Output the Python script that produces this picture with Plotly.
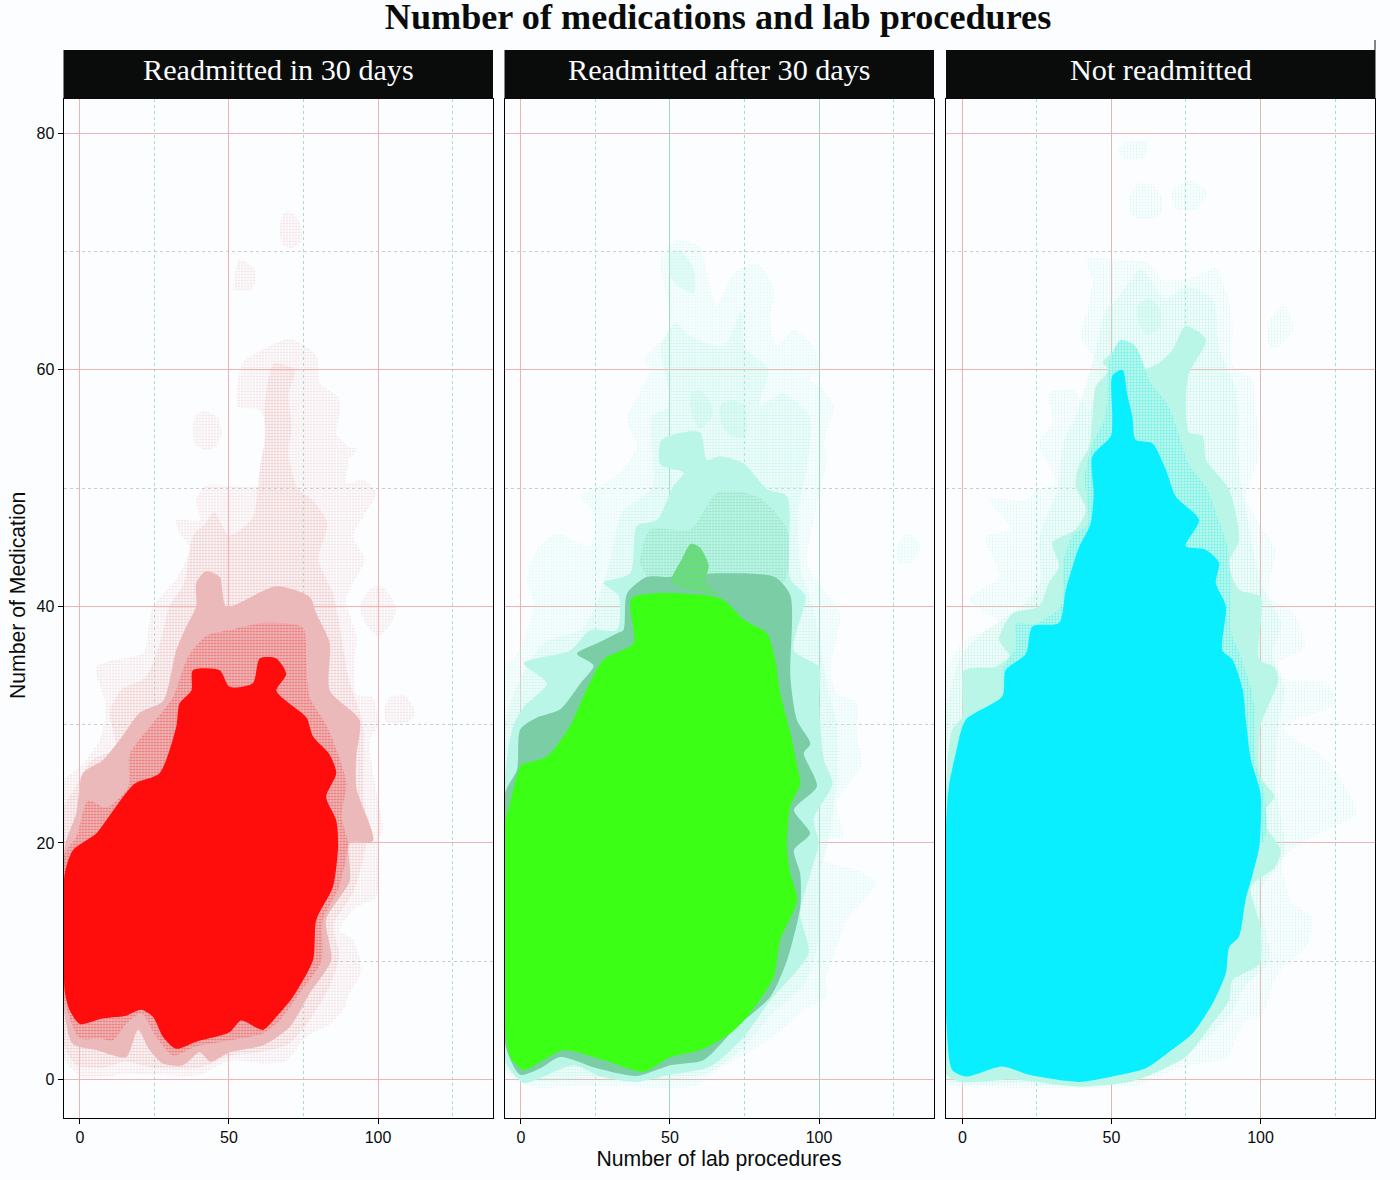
import plotly.graph_objects as go

# Panel names and axis labels
PANELS = ["Readmitted in 30 days", "Readmitted after 30 days", "Not readmitted"]
X_TICKS = [0, 50, 100]
X_MINOR = [25, 75, 125]
Y_TICKS = [0, 20, 40, 60, 80]
Y_MINOR = [10, 30, 50, 70]

# Outlines: (lab procedures, medications)
# Panel 1
R_SPARSE = [(-5.4,1.9),(1,0.2),(16.7,0.5),(25.6,0.4),(40.2,0.4),(50.2,1.6),(62.5,1.35),(69.2,1.6),(75.9,3.6),(83.8,4.7),(88.3,5.9),(90.5,7.3),(94.4,9.2),(91.6,11.8),(87.1,12.6),(92.7,14.6),(99.4,15.4),(100,20),(101.7,21.4),(100,23.6),(97.2,28.7),(100,30),(98.2,32.3),(92.7,32.6),(91.9,34.3),(92.7,37.5),(89.3,40.6),(95.5,44),(91.6,45.9),(95,47.6),(99.4,49.6),(95,50.7),(89.3,50.4),(89.9,52.4),(86,54.1),(87.2,57.5),(80.4,58.9),(79.3,61.2),(70.4,62.6),(63.6,62),(54.7,60.6),(53,56.9),(60.3,56.6),(62.5,55),(60.3,51.8),(60.3,50.2),(42.4,50.2),(39,49),(40.2,47.3),(32.3,47.3),(33.4,46.2),(36.8,45),(32.3,42.3),(24.5,40),(22.2,36.6),(21.1,36),(5.5,34.9),(8.8,31.5),(6.6,28.7),(-0.1,26.4),(-5.1,25.3)]
R_MID = [(-5.4,3),(-1,1.2),(8,1),(15,1.5),(25,1),(40,1),(50,2),(60,2.3),(70,3),(77,5),(84,8),(87,10.5),(85,13),(92,16),(96,20),(95,25),(95,30),(90,34),(88,37),(85,41),(80,44),(83,47),(78,49),(73,50),(70,53),(71,55),(70,58),(72,60),(65,60.5),(62,57),(62,54),(60,51),(58,47.5),(50,46),(45,48),(42,47),(38,46),(35,42),(30,40),(27,37),(22,34),(14,33),(10,31),(12,28),(4,27),(-2,24.5),(-5.4,23)]
R_SOLID = [(-5.4,6.1),(-2.4,3),(5.5,2.5),(15.5,1.9),(19.5,4.2),(23.4,2.5),(27.9,1.35),(34.6,1.2),(40.2,2.3),(43.8,1.5),(50.2,2.3),(61.4,2.9),(70.4,4.45),(77.1,7.3),(84.3,10.1),(82.6,13.5),(90.5,16.8),(90.5,20),(98.3,20.2),(92.7,24.7),(92.7,27.3),(93.8,30.4),(83.8,32.9),(83.8,36.9),(79.3,39.4),(77.1,40.8),(65.9,41.7),(49.1,40),(46.9,42.5),(42.4,43),(39,42),(39,40),(35.7,38.3),(32.3,36.3),(27.9,32),(20,31),(13.3,28.7),(7.7,27),(1,25.9),(-1.2,22.5),(-5.1,19.7)]
R_FRINGE = [(-5.1,6.7),(0,3.5),(6.6,3.5),(11,3.3),(15.5,4.7),(20.6,5.6),(25.6,3.6),(31.2,2.05),(39,2.8),(50.2,3.3),(61.4,3.9),(67,5),(73.7,7.3),(81,10),(81.5,13.5),(87,16.3),(89.9,20),(87.7,22.2),(89.4,25),(86.6,27.5),(82.6,30),(77.1,32.3),(75.9,35.4),(74.8,38.2),(61.4,38.6),(50.2,38),(42.4,37.5),(36.2,35.7),(31.2,32.3),(23.4,29.8),(16.7,27.5),(16.1,24.7),(8.8,23),(2.7,23.6),(-1.2,20.5),(-5.1,19.1)]
R_CORE = [(-5.1,7.5),(-3.5,5.9),(0,4.7),(7.2,5.15),(15.5,5.4),(20.6,5.9),(24.5,5.3),(27.9,3.6),(32.3,2.6),(39,3.2),(50.2,4),(54.1,5),(61.4,4.2),(65.9,5.3),(71.5,7),(78.2,10.1),(79.3,13.5),(84.9,16.3),(86.6,19.7),(86,21.9),(82.6,23.9),(86,25.9),(83.7,27.5),(78.2,29),(76,30.6),(69.2,32),(65.9,32.9),(69.2,34.3),(65.9,35.6),(60.3,35.6),(58,33.5),(50.2,33.2),(46.9,34.6),(37.9,34.6),(37.4,32.9),(33.4,31.8),(32.3,29.8),(26.7,25.9),(18.3,25),(8.8,21.9),(5.5,20.8),(-2.3,19.4),(-5.1,17.4),(-5.4,11.8)]
R_BLOBS = [
    [(38,55),(39,56.2),(42,56.5),(46,56),(47.5,54.8),(46,53.6),(42,53.2),(38.5,53.8)],
    [(67,72),(68.5,73.3),(71,73.3),(74,72.3),(74.3,70.8),(71,70.3),(68,70.6)],
    [(51.5,66.8),(51.7,67.5),(53.5,69.3),(58.5,68.5),(59,67.5),(57,66.7),(52,66.8)],
    [(94,40),(98,41.6),(102,41.6),(106,39.8),(104,38.4),(100,37.5),(96,38.5)],
    [(102,31),(104,32.3),(109,32.5),(112.5,31),(110,30.2),(103,30.2)],
    [(85.5,54.6),(90,53.5),(93,53.3),(90,52.5)],
]

# Panel 2
G_SPARSE = [(-5.5,0.8),(3.1,-0.6),(22,-0.5),(44.5,-0.7),(59,-0.5),(65.8,0.8),(75.8,2.2),(86,3.9),(95,5.9),(102.7,7),(102.1,8.4),(106,11.2),(109.4,13.5),(119,16.6),(112.7,17.7),(100.4,18.6),(100.4,20.3),(108,20.5),(106,23.4),(114.4,26.7),(112.7,29),(112.7,31.8),(106,32.7),(103.8,34.6),(107,39.4),(100,42),(96,43.7),(102.7,52.7),(101.6,53.8),(104.9,56.9),(101.6,58.3),(97,59.2),(99.9,60),(98.2,62),(91.5,63.4),(85.9,62),(83.7,64.3),(84.8,66.8),(79.2,69),(71.4,68.2),(65.8,65.4),(62.4,68.2),(60.1,70.4),(52.3,71),(46.8,69.3),(49,66),(50.1,63.4),(41.2,60.9),(43.4,60),(35.6,55.8),(38.9,53.5),(33.3,51.3),(27.7,50.4),(19.9,49.3),(24.4,47.9),(23.3,45.1),(17.6,45.6),(12,46.2),(5.4,44.8),(2,42.5),(4.3,40),(-2.5,35.5),(-5.3,35.2)]
G_MID = [(-5.4,1),(5,-0.1),(26,0.2),(50,0),(62,0.5),(74,2.5),(84,5.5),(95,8),(100,12),(100,17),(103,20),(106,25),(106,30),(103,33),(98,40),(94,43),(93,48),(96,52),(97,56),(88,58),(80,57),(83,60),(75,62),(74,65),(68,62),(56,63),(52,64),(47,62),(50,57),(44,56),(44,50),(34,48),(30,44),(25,40),(20,38),(8,37),(0,34),(-5.4,30)]
G_SOLID = [(-5.3,1.6),(0.9,-0.3),(5.4,0),(17.7,1.2),(26.6,0.25),(38.9,-0.2),(50.1,0.4),(63.5,1.1),(74.7,3.6),(83.7,6.7),(96.5,10.7),(93.7,14),(97.1,17.4),(99.9,20),(98.2,22),(104.5,25),(101.7,27),(100,31.8),(99.9,34.9),(91.5,36.3),(95.4,40.9),(90.4,42.3),(89.3,49.3),(82.6,49.9),(74.7,52.1),(66.9,52.7),(62.4,52.4),(60.2,54.7),(54,54.7),(47,54),(46.8,52),(54.6,51.3),(51.2,50.2),(45.6,47.3),(38.9,46.8),(36.7,42.8),(27.7,42),(32.8,40.9),(32.2,38),(23.3,38),(16.6,36.3),(0.9,35.2),(8.7,33.5),(0.9,31.5),(-2.7,29.8),(-5.3,25.6)]
G_SPECKLE = [(88,42),(89.3,46.5),(79.2,49.3),(65.8,49.6),(56.8,46.5),(43.4,46.5),(40,43.7),(42.3,42.5),(45,40)]
G_FRINGE = [(-5.3,3),(-0.2,0.4),(6.5,0.95),(13.2,1.9),(25.5,0.95),(38.9,0.3),(50.1,1.2),(61.3,1.65),(72.5,4.5),(83.7,7),(89.3,10.1),(93.7,14.6),(93.7,17.4),(91.6,19.4),(97,20.8),(91.6,22.8),(99.3,24.8),(94.9,27.6),(97.1,28.4),(92.6,30.4),(90.4,34),(90.4,40.9),(85,42.5),(66,42.8),(50,42.5),(42.3,42.5),(35.6,41.1),(34.4,38),(32,37.7),(25.7,36.9),(18.8,36),(24.4,35),(20,33.5),(13.2,31.3),(5.4,30.6),(-0.2,29.6),(-1.3,26.2),(-5.3,24.2)]
G_TIP = [(50.5,42),(54,44),(57,45.3),(60,45),(63,43.5),(62,42),(67,41)]
G_CORE = [(37.2,40.7),(66.9,40.7),(74.7,38.9),(82.6,37.7),(85.3,35.5),(87,32.7),(90.4,29.3),(92.7,26.5),(93.7,25),(90.4,23.1),(89.3,19.7),(90.4,17.4),(92.7,15.2),(87,11.8),(84.8,8.7),(76.9,5.6),(70.2,3.9),(60.2,2.5),(50.1,1.9),(41.2,0.66),(27.7,1.65),(14.3,2.5),(7.6,1.65),(0.9,0.8),(-3.6,1.9),(-5.3,4.5),(-5.5,21.4),(-3.6,23.4),(-0.2,26.5),(0.9,26.7),(8.7,27.3),(16.5,29.9),(22.1,33),(27.7,35.5),(37.8,36.9)]
G_BLOBS = [
    [(126,45),(130,46.2),(134,45),(131,43.7),(127,43.6)],
]
G_LUMPS = [
    [(57,58),(60,58.3),(64,57),(64,56),(60,55),(57,56.5)],
    [(67,57),(70,57.5),(75,57),(75,54.3),(70,54.5),(67,55.5)],
    [(50,70),(54,70),(58,68.5),(58,66.5),(53,67),(50,68)],
]

# Panel 3
C_SPARSE = [(-5.5,-0.3),(5.6,-0.6),(28,-0.7),(58,-0.5),(68.2,0.5),(80.5,1.4),(88.3,1.8),(95,5),(100,5.3),(106,9),(116,11.5),(116.9,13.8),(110.8,14.9),(107.4,18.6),(117.4,20.5),(132,22.5),(126.4,25.6),(119.6,27.6),(111.8,28.7),(107.3,29.9),(125.3,31.8),(122,33.5),(108.5,33.8),(106,35.2),(114.7,36.6),(111.3,39.4),(102.9,40.9),(105,44.8),(100.7,46.5),(95.1,49.3),(99.6,52.7),(98.4,56.6),(97.3,59.2),(90.6,60.3),(90.6,63.7),(89.5,65.7),(85,68.6),(78.3,67.9),(67.1,67.6),(62.6,69),(52.6,69.3),(41.4,69.3),(43.6,67.6),(42.5,65.7),(39.7,62.8),(45.9,60.3),(42.5,56.6),(36.9,58.3),(29.1,58),(30.2,55.5),(25.7,53.8),(31.3,50.4),(25.7,49.9),(21.3,49),(8.9,49),(16.8,46.5),(7.8,45.9),(12.3,42.5),(2.2,40.6),(12.3,38.6),(1.1,37.2),(-5.5,34.6)]
C_MID = [(-5.5,0.2),(20,-0.3),(40,-0.6),(60,0),(72,1.5),(82,3.5),(90,5.5),(95,8),(103,10),(100,16),(108,19),(105,25),(106,30),(108,33),(104,36),(107,38.5),(100,42),(96,47),(93,51),(92,58),(86,62),(84,66),(75,67),(68,66),(60,68.5),(52,66),(48,65),(44,61),(38,56),(34,54),(32,50),(26,46),(26,42),(20,40),(8,38),(0,36),(-5.5,31)]
C_SOLID = [(-5.5,0.5),(0,-0.2),(16.8,0),(39.1,-0.6),(55.9,-0.2),(63.7,0.5),(74.9,1.9),(83.9,4.75),(89.5,6.7),(90.6,8.4),(99.6,9.8),(100,12.9),(96.8,16.3),(105,18),(106.8,19.4),(100,22.2),(104.6,23.9),(100,25.6),(100,29.9),(106,33.8),(104.6,34.9),(99.6,35.5),(100,40.8),(92.8,41.4),(89.4,43.7),(92.8,45.6),(89.4,49.9),(81.7,52.4),(80.6,54.4),(76,54.7),(75,57.8),(76,59.7),(81.7,62.6),(74.9,63.7),(70.5,61.7),(66,60.6),(59.3,60),(57,61.2),(50.3,61.4),(47,60.6),(49.2,60),(44.7,58.6),(43.6,56),(42.5,53.5),(39.1,51.9),(38,50.2),(41.4,48.2),(38,46.5),(30.2,45.4),(32.4,43.4),(29,42),(25.7,40),(16.8,39.4),(12.3,37.2),(15.7,35.8),(11.2,34.9),(0.6,34.6),(0,30.7),(-3.4,29.6),(-5.3,25.6)]
C_FRINGE = [(100.5,20),(101,24.5),(98,27),(98,31),(97,33),(93,36),(90,38),(90,41),(89,45),(85,48),(82,50),(76,52),(72,55),(69,57),(63,59),(58,62),(53,62.5),(49,60.5),(48,56),(44,54),(41,51),(42,47),(37,46),(34,44),(33,40),(28,39),(24,38.5),(18,38.6),(17.9,36.6),(13.4,34.6),(12.9,31.8),(1.1,30.5),(-2.2,27.6),(-5,24.5),(-5.5,20)]
C_CORE = [(-5.3,4.5),(-3.4,0.8),(1.1,0.25),(13.4,1.1),(22.4,0.4),(39.1,-0.2),(50.3,0.25),(61.5,0.95),(69.4,2.35),(77.2,3.9),(83.9,6.4),(88.4,9),(89.5,11.2),(92.8,12.1),(95,15.2),(97.2,17.2),(99.6,19.7),(100,24.2),(96.8,27),(95.1,30.4),(94,33),(90.6,35.5),(87.2,36.3),(88.4,40),(85,42),(86.1,43.7),(81.6,44.8),(74.9,45.1),(79.4,47.3),(71.6,49.3),(68.2,51.6),(63.7,53.8),(58.1,54.1),(57,56.1),(55.4,57.8),(53.7,60),(50.3,59.5),(50.3,56),(49.8,54.4),(43.6,52.7),(44,49.5),(43,47),(39.1,45),(34.7,41.4),(32.4,38.6),(23.5,38.3),(21.3,36),(14.5,34.6),(13.4,32.4),(1.1,30.4),(-2.2,27.6),(-4.5,24.8),(-5.5,21.4)]
C_BLOBS = [
    [(56,74.5),(59,75.8),(64,75.6),(67,74.5),(66,73),(60,72.7),(57,73)],
    [(52.2,78.5),(55,79.3),(62,79.2),(61,78),(55,77.8)],
    [(70,75),(76,76),(82,75),(78,73.5),(72,73.6)],
    [(103,64),(108,65.5),(111,63.5),(106,62),(103,62)],
]
C_LUMPS = [
    [(59,65.5),(63,66),(66.5,65),(66,63.5),(62,63),(59,64)],
]

PAGE = "#fbfdff"
STRIP = "#0a0c0c"
STYLES = [
    dict(core="#ff0c0c", speck="#ff0c0c", solid="#ebb9b9", light="#ebb9b9", fringe_bg="#ebb9b9"),
    dict(core="#3bff14", speck="#6fc79c", solid="#b9f6e7", light="#b9f6e7", fringe_bg="#7bcda6"),
    dict(core="#0aefff", speck="#0aefff", solid="#b9f6e7", light="#b9f6e7", fringe_bg="#b9f6e7"),
]
W, H = 1400, 1180
PANEL_PX = [(63.5, 492.5), (504.5, 933.5), (946, 1375)]
TOP_PX, BOTTOM_PX, STRIP_TOP_PX = 99, 1118, 50

fig = go.Figure()


def poly(panel, pts, color=None, pattern=None):
    axis = "" if panel == 0 else str(panel + 1)
    pts = list(pts) + [pts[0]]
    kw = dict(fillcolor=color) if color else dict(fillpattern=pattern, fillcolor="rgba(0,0,0,0)")
    fig.add_trace(go.Scatter(x=[p[0] for p in pts], y=[p[1] for p in pts], xaxis="x" + axis, yaxis="y" + axis,
                             mode="lines", fill="toself", line=dict(width=0, shape="spline", smoothing=0.7),
                             hoverinfo="skip", showlegend=False, **kw))


def dots(color, size, solidity, bg=None):
    d = dict(shape=".", fgcolor=color, size=size, solidity=solidity)
    if bg:
        d["bgcolor"] = bg
    return d


DATA = [
    (R_SPARSE, R_MID, R_SOLID, R_FRINGE, R_CORE, R_BLOBS, []),
    (G_SPARSE, G_MID, G_SOLID, G_FRINGE, G_CORE, G_BLOBS, G_LUMPS),
    (C_SPARSE, C_MID, C_SOLID, C_FRINGE, C_CORE, C_BLOBS, C_LUMPS),
]
for i, (sparse, mid, solid, fringe, core, blobs, lumps) in enumerate(DATA):
    st = STYLES[i]
    poly(i, sparse, pattern=dots(st["light"], 3, 0.28))
    for b in blobs:
        poly(i, b, pattern=dots(st["light"], 3, 0.28))
    poly(i, mid, pattern=dots(st["light"], 3, 0.5))
    for b in lumps:
        poly(i, b, pattern=dots(st["light"], 2, 0.7))
    poly(i, solid, color=st["solid"])
    if i == 1:
        poly(i, G_SPECKLE, pattern=dots("#6fc79c", 3, 0.3))
        poly(i, fringe, color="#7bcda6")
        poly(i, G_TIP, pattern=dots("#3bff14", 3, 0.5, "#7bcda6"))
    else:
        poly(i, fringe, pattern=dots(st["speck"], 3, 0.3, st["fringe_bg"]))
    poly(i, core, color=st["core"])

layout = dict(width=W, height=H, margin=dict(l=0, r=0, t=0, b=0), paper_bgcolor=PAGE, plot_bgcolor=PAGE,
              font=dict(family="Liberation Sans", color="#0a0c0c"),
              title=dict(text="<b>Number of medications and lab procedures</b>", x=718 / W, xanchor="center",
                         y=1 - 16 / H, yanchor="middle", font=dict(family="Liberation Serif", size=36.2, color="#0a0c0c")))

major_x = ["#eeb4b4", "#9fd8be", "#e2b6b2"]
shapes, annotations = [], []
for i, (l, r) in enumerate(PANEL_PX):
    sx = "" if i == 0 else str(i + 1)
    layout["xaxis" + sx] = dict(
        domain=[l / W, r / W], range=[-5.5, 138.4], anchor="y" + sx,
        tickmode="array", tickvals=X_TICKS, ticktext=[str(v) for v in X_TICKS],
        ticks="outside", ticklen=5, tickcolor="#000", tickfont=dict(size=16, color="#0a0c0c"),
        showline=True, linecolor="#000", linewidth=1, mirror=True,
        zeroline=True, zerolinecolor="#eeb4b4", zerolinewidth=1,
        showgrid=True, gridcolor=major_x[i], gridwidth=1,
        minor=dict(tickvals=X_MINOR, showgrid=True, gridcolor="#a9dccb", griddash="dot", gridwidth=1, ticks=""),
    )
    layout["yaxis" + sx] = dict(
        domain=[1 - BOTTOM_PX / H, 1 - TOP_PX / H], range=[-3.25, 82.9], anchor="x" + sx,
        tickmode="array", tickvals=Y_TICKS, ticktext=[str(v) for v in Y_TICKS],
        showticklabels=i == 0, ticks="outside" if i == 0 else "", ticklen=5, tickcolor="#000",
        tickfont=dict(size=16, color="#0a0c0c"),
        showline=True, linecolor="#000", linewidth=1, mirror=True, zeroline=False,
        showgrid=True, gridcolor="#eeb4b4", gridwidth=1,
        minor=dict(tickvals=Y_MINOR, showgrid=True, gridcolor="#c9cfc6", griddash="dot", gridwidth=1, ticks=""),
    )
    shapes.append(dict(type="rect", xref="paper", yref="paper", x0=l / W, x1=(r + 0.5) / W,
                       y0=1 - TOP_PX / H, y1=1 - STRIP_TOP_PX / H, fillcolor=STRIP, line=dict(width=0)))
    annotations.append(dict(text=PANELS[i], xref="paper", yref="paper", x=(l + r) / 2 / W, y=1 - 70 / H,
                            xanchor="center", yanchor="middle", showarrow=False,
                            font=dict(family="Liberation Serif", size=30.2, color="#fbfdff")))

layout["xaxis2"]["title"] = dict(text="Number of lab procedures", font=dict(size=21.2, color="#0a0c0c"), standoff=5)
annotations.append(dict(text="Number of Medication", xref="paper", yref="paper", x=17 / W, y=1 - 596 / H,
                        xanchor="center", yanchor="middle", textangle=-90, showarrow=False,
                        font=dict(size=21.2, color="#0a0c0c")))
shapes.append(dict(type="line", xref="paper", yref="paper", x0=1375 / W, x1=1375 / W, y0=1 - 50 / H, y1=1 - 40 / H,
                   line=dict(color="#0a0c0c", width=1)))
layout["shapes"] = shapes
layout["annotations"] = annotations
fig.update_layout(**layout)
fig.write_html("out.html", post_script="document.body.style.margin='0';", config={"displayModeBar": False})
